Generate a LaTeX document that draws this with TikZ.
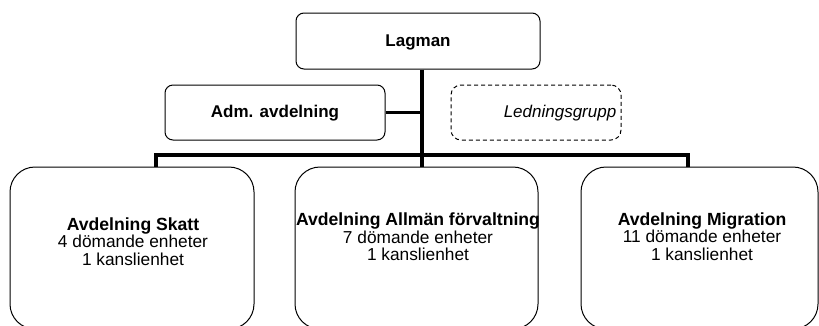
\documentclass[tikz,border=0pt]{standalone}
\usepackage{fontspec}
\setmainfont{Liberation Sans}
\begin{document}
\begin{tikzpicture}[x=1pt,y=-1pt,
  box/.style={draw=black,line width=1pt,rounded corners=8pt,inner sep=0pt},
  unitbox/.style={draw=black,line width=1pt,rounded corners=25pt,inner sep=0pt},
  groupbox/.style={draw=black,line width=1pt,dash pattern=on 4pt off 3pt,rounded corners=10pt,inner sep=0pt},
  head/.style={font=\fontsize{17}{20}\selectfont\bfseries},
  unithead/.style={anchor=base,inner sep=0pt,font=\fontsize{17.6}{20}\selectfont\bfseries},
  unitline/.style={anchor=base,inner sep=0pt,font=\fontsize{17.3}{20}\selectfont},
  link/.style={line width=3.3pt,line cap=butt,line join=miter}]
\useasboundingbox (0,0) rectangle (819,325);
\clip (0,0) rectangle (819,325);

% top level
\node[box,minimum width=244pt,minimum height=56pt] (lagman) at (418,41) {};
\node[head] (lagmanT) at (418,42) {Lagman};

% staff units beside the trunk
\node[box,minimum width=220pt,minimum height=55pt] (adm) at (275,112.5) {};
\node[head] (admT) at (275,113) {Adm. avdelning};
\node[groupbox,minimum width=170pt,minimum height=55pt] (led) at (536,112.5) {};
\node[font=\fontsize{17}{20}\selectfont\itshape] (ledT) at (560,113) {Ledningsgrupp};

% departments
\node[unitbox,minimum width=244pt,minimum height=162pt] (skatt) at (132,248) {};
\node[unithead] (skattA) at (133,230) {Avdelning Skatt};
\node[unitline] (skattB) at (133,247.5) {4 dömande enheter};
\node[unitline] (skattC) at (133,265) {1 kanslienhet};

\node[unitbox,minimum width=243pt,minimum height=162pt] (allm) at (416.5,248) {};
\node[unithead] (allmA) at (418,225.5) {Avdelning Allmän förvaltning};
\node[unitline] (allmB) at (418,243) {7 dömande enheter};
\node[unitline] (allmC) at (418,260.5) {1 kanslienhet};

\node[unitbox,minimum width=237pt,minimum height=162pt] (migr) at (699.5,248) {};
\node[unithead] (migrA) at (702,225) {Avdelning Migration};
\node[unitline] (migrB) at (702,242.5) {11 dömande enheter};
\node[unitline] (migrC) at (702,260) {1 kanslienhet};

% connectors
\coordinate (trunk) at (422,155);
\coordinate (busL) at (156,155);
\coordinate (busR) at (688,155);
\draw[link] (lagman.south -| trunk) -- (allm.north -| trunk);
\draw[link] (adm.east) -- (adm.east -| trunk);
\draw[link] (skatt.north -| busL) -- (busL) -- (busR) -- (migr.north -| busR);
\end{tikzpicture}
\end{document}
